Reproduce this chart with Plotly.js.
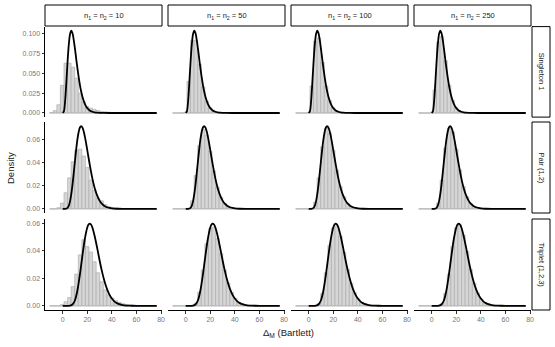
<!DOCTYPE html>
<html>
<head>
<meta charset="utf-8">
<script src="https://cdn.plot.ly/plotly-3.0.1.min.js"></script>
<style>
  html, body { margin: 0; padding: 0; background: #fff; }
  #chart { width: 555px; height: 347px; }
</style>
</head>
<body>
<div id="chart"></div>
<script>
const sampleSizes = ["10", "50", "100", "250"];
const rowLabels = ["Singleton 1", "Pair (1,2)", "Triplet (1,2,3)"];
const binStart = -10.6;
const binWidth = 2.91;
const binCount = 30;
const xTicks = [0, 20, 40, 60, 80];

// histogram densities, one value per bin (30 bins)
const singleton10 = [0.0005, 0.003, 0.0105, 0.035, 0.063, 0.063, 0.058, 0.044, 0.025, 0.014, 0.008, 0.006, 0.0045, 0.003, 0.002, 0.0015, 0.001, 0.0007, 0.0005, 0.0003, 0.0002, 0.0001, 0.0001, 0, 0, 0, 0, 0, 0, 0];
const singleton50 = [0, 0, 0, 0.001, 0.040, 0.092, 0.092, 0.062, 0.033, 0.015, 0.0065, 0.0025, 0.001, 0.0004, 0.0002, 0.0001, 0, 0, 0, 0, 0, 0, 0, 0, 0, 0, 0, 0, 0, 0];
const singleton100 = [0, 0, 0, 0.0005, 0.034, 0.091, 0.095, 0.064, 0.034, 0.0155, 0.0065, 0.0025, 0.001, 0.0004, 0.0002, 0.0001, 0, 0, 0, 0, 0, 0, 0, 0, 0, 0, 0, 0, 0, 0];
const singleton250 = [0, 0, 0, 0.0002, 0.029, 0.0896, 0.0967, 0.0661, 0.0352, 0.016, 0.0066, 0.0025, 0.001, 0.0004, 0.0002, 0.0001, 0, 0, 0, 0, 0, 0, 0, 0, 0, 0, 0, 0, 0, 0];

const pair10 = [0, 0, 0.001, 0.005, 0.014, 0.027, 0.041, 0.051, 0.052, 0.046, 0.036, 0.025, 0.016, 0.009, 0.007, 0.0037, 0.002, 0.0012, 0.0008, 0.0005, 0.0003, 0.0002, 0.0001, 0, 0, 0, 0, 0, 0, 0];
const pair50 = [0, 0, 0, 0, 0.0005, 0.007, 0.029, 0.055, 0.069, 0.064, 0.050, 0.033, 0.019, 0.010, 0.0048, 0.0023, 0.001, 0.0005, 0.0002, 0.0001, 0, 0, 0, 0, 0, 0, 0, 0, 0, 0];
const pair100 = [0, 0, 0, 0, 0.0003, 0.006, 0.027, 0.054, 0.070, 0.066, 0.051, 0.0335, 0.0195, 0.0105, 0.0047, 0.0022, 0.001, 0.0005, 0.0002, 0.0001, 0, 0, 0, 0, 0, 0, 0, 0, 0, 0];
const pair250 = [0, 0, 0, 0, 0.0002, 0.005, 0.025, 0.053, 0.070, 0.067, 0.052, 0.034, 0.0195, 0.0105, 0.0047, 0.0022, 0.001, 0.0005, 0.0002, 0.0001, 0, 0, 0, 0, 0, 0, 0, 0, 0, 0];

const triplet10 = [0, 0, 0, 0.001, 0.003, 0.006, 0.014, 0.023, 0.037, 0.048, 0.043, 0.039, 0.032, 0.024, 0.0175, 0.0115, 0.008, 0.0055, 0.0037, 0.0025, 0.0016, 0.001, 0.0006, 0.0004, 0.0002, 0.0001, 0, 0, 0, 0];
const triplet50 = [0, 0, 0, 0, 0, 0.0002, 0.002, 0.010, 0.026, 0.045, 0.056, 0.057, 0.049, 0.038, 0.026, 0.0165, 0.0097, 0.0053, 0.0027, 0.0013, 0.0006, 0.0003, 0.0001, 0, 0, 0, 0, 0, 0, 0];
const triplet100 = [0, 0, 0, 0, 0, 0.0001, 0.0017, 0.009, 0.024, 0.044, 0.0565, 0.058, 0.0505, 0.039, 0.0265, 0.0163, 0.0094, 0.0051, 0.0026, 0.0012, 0.0006, 0.0003, 0.0001, 0, 0, 0, 0, 0, 0, 0];
const triplet250 = [0, 0, 0, 0, 0, 0.0001, 0.0015, 0.009, 0.023, 0.043, 0.0565, 0.0588, 0.0515, 0.0395, 0.0265, 0.0163, 0.0093, 0.005, 0.0025, 0.0012, 0.0006, 0.0003, 0.0001, 0, 0, 0, 0, 0, 0, 0];

// reference density curves, one per row
const singletonCurveX = [0, 1, 2, 3, 4, 5, 6, 7, 8, 9, 10, 11, 12, 13, 14, 15, 16, 17, 18, 20, 22, 24, 26, 28, 30, 34, 40, 50, 60, 76.5];
const singletonCurveY = [0, 0.0023, 0.0158, 0.0396, 0.0658, 0.0872, 0.1001, 0.1041, 0.1008, 0.0923, 0.0810, 0.0686, 0.0564, 0.0453, 0.0356, 0.0275, 0.0209, 0.0157, 0.0116, 0.0062, 0.0032, 0.0016, 0.0008, 0.0004, 0.0002, 0.00004, 0, 0, 0, 0];
const pairCurveX = [0, 2, 4, 5, 6, 7, 8, 9, 10, 11, 12, 13, 14, 15, 16, 17, 18, 19, 20, 21, 22, 23, 24, 25, 26, 28, 30, 32, 34, 36, 38, 40, 44, 50, 60, 76.5];
const pairCurveY = [0, 0.00001, 0.0009, 0.0028, 0.0067, 0.0130, 0.0214, 0.0314, 0.0419, 0.0520, 0.0606, 0.0669, 0.0708, 0.0720, 0.0709, 0.0677, 0.0631, 0.0574, 0.0511, 0.0447, 0.0385, 0.0326, 0.0272, 0.0224, 0.0182, 0.0117, 0.0072, 0.0043, 0.0025, 0.0014, 0.0008, 0.0004, 0.0001, 0, 0, 0];
const tripletCurveX = [0, 4, 6, 8, 10, 12, 14, 16, 18, 20, 21, 22, 23, 24, 26, 28, 30, 32, 34, 36, 38, 40, 42, 44, 46, 48, 52, 56, 60, 76.5];
const tripletCurveY = [0, 0, 0.0001, 0.0010, 0.0041, 0.0113, 0.0226, 0.0361, 0.0485, 0.0569, 0.0590, 0.0597, 0.0590, 0.0572, 0.0507, 0.0422, 0.0331, 0.0248, 0.0178, 0.0123, 0.0082, 0.0053, 0.0033, 0.0020, 0.0012, 0.0007, 0.0002, 0.0001, 0, 0];

const histograms = [
  [singleton10, singleton50, singleton100, singleton250],
  [pair10, pair50, pair100, pair250],
  [triplet10, triplet50, triplet100, triplet250],
];
const curves = [
  [singletonCurveX, singletonCurveY],
  [pairCurveX, pairCurveY],
  [tripletCurveX, tripletCurveY],
];

// panel placement in pixels
const W = 555, H = 347;
const colPx = [[45, 162], [168, 285], [291, 408], [414, 531]];
const rowPx = [[26.6, 117.1], [122, 213], [219, 310]];
const yRanges = [[-0.0052, 0.1093], [-0.0036, 0.0756], [-0.003, 0.063]];
const yDticks = [0.025, 0.02, 0.02];
const yFormats = [".3f", ".2f", ".2f"];
const fx = (p) => p / W;
const fy = (p) => 1 - p / H;

const binCenters = [];
for (let k = 0; k < binCount; k++) binCenters.push(binStart + (k + 0.5) * binWidth);

const fontFamily = "Liberation Sans, Arial, sans-serif";
const data = [];
const layout = {
  width: W,
  height: H,
  margin: { l: 0, r: 0, t: 0, b: 0 },
  paper_bgcolor: "#fff",
  plot_bgcolor: "#fff",
  showlegend: false,
  bargap: 0,
  font: { family: fontFamily, size: 7, color: "#4d4d4d" },
  shapes: [],
  annotations: [],
};

// text placed by its centre, in pixels
function label(px, py, text, size, angle) {
  return {
    xref: "paper", yref: "paper",
    x: fx(px), y: fy(py),
    xanchor: "center", yanchor: "middle",
    text: text, textangle: angle || 0, showarrow: false,
    font: { size: size, color: "#1a1a1a" },
  };
}

rowLabels.forEach((rowLabel, r) => {
  sampleSizes.forEach((n, c) => {
    const idx = r * 4 + c + 1;
    const xa = idx === 1 ? "x" : "x" + idx;
    const ya = idx === 1 ? "y" : "y" + idx;

    data.push({
      x: [binStart, binStart + binCount * binWidth],
      y: [0, 0],
      type: "scatter",
      mode: "lines",
      line: { color: "#b8b8b8", width: 0.8 },
      xaxis: xa,
      yaxis: ya,
      hoverinfo: "skip",
    });
    data.push({
      x: binCenters,
      y: histograms[r][c],
      type: "bar",
      width: binWidth,
      marker: { color: "#d6d6d6", line: { color: "#a8a8a8", width: 0.6 } },
      xaxis: xa,
      yaxis: ya,
      hoverinfo: "skip",
    });
    data.push({
      x: curves[r][0],
      y: curves[r][1],
      type: "scatter",
      mode: "lines",
      line: { color: "#000", width: 1.8, shape: "spline", smoothing: 0.8 },
      xaxis: xa,
      yaxis: ya,
      hoverinfo: "skip",
    });

    const bottom = r === rowLabels.length - 1;
    const left = c === 0;
    layout["xaxis" + (idx === 1 ? "" : idx)] = {
      domain: [fx(colPx[c][0]), fx(colPx[c][1])],
      anchor: ya,
      range: [-14.4, 80.8],
      showgrid: false,
      zeroline: false,
      showline: bottom,
      linecolor: "#000",
      linewidth: 1,
      ticks: bottom ? "outside" : "",
      ticklen: 2.5,
      tickcolor: "#333",
      tickvals: xTicks,
      showticklabels: bottom,
      tickfont: { size: 7, color: "#777" },
    };
    layout["yaxis" + (idx === 1 ? "" : idx)] = {
      domain: [fy(rowPx[r][1]), fy(rowPx[r][0])],
      anchor: xa,
      range: yRanges[r],
      showgrid: false,
      zeroline: false,
      showline: left,
      linecolor: "#000",
      linewidth: 1,
      ticks: left ? "outside" : "",
      ticklen: 2.5,
      tickcolor: "#333",
      tick0: 0,
      dtick: yDticks[r],
      tickformat: yFormats[r],
      showticklabels: left,
      tickfont: { size: 7, color: "#777" },
    };
  });

  // right strip
  layout.shapes.push({
    type: "rect", xref: "paper", yref: "paper",
    x0: fx(532), x1: fx(550), y0: fy(rowPx[r][1]), y1: fy(rowPx[r][0]),
    line: { color: "#000", width: 1 }, fillcolor: "#fff", layer: "below",
  });
  layout.annotations.push(label(541, (rowPx[r][0] + rowPx[r][1]) / 2, rowLabel, 7.5, 90));
});

// top strips
sampleSizes.forEach((n, c) => {
  layout.shapes.push({
    type: "rect", xref: "paper", yref: "paper",
    x0: fx(colPx[c][0]), x1: fx(colPx[c][1]), y0: fy(26), y1: fy(5),
    line: { color: "#000", width: 1 }, fillcolor: "#fff", layer: "below",
  });
  layout.annotations.push(label((colPx[c][0] + colPx[c][1]) / 2, 15.5,
    "n<sub>1</sub> = n<sub>2</sub> = " + n, 7.5));
});

// axis titles
layout.annotations.push(label((colPx[0][0] + colPx[3][1]) / 2, 333, "Δ<sub>M</sub> (Bartlett)", 9.5));
layout.annotations.push(label(10, 168, "Density", 9.5, -90));

Plotly.newPlot("chart", data, layout, { displayModeBar: false, staticPlot: true });
</script>
</body>
</html>
